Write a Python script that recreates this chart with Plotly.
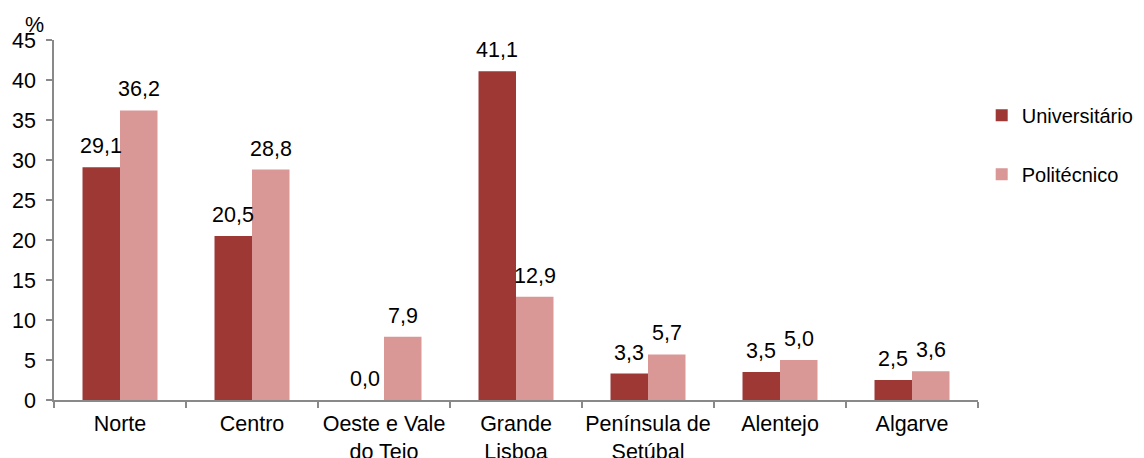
import plotly.graph_objects as go

# Regions and values (%)
regioes = ["Norte", "Centro", "Oeste e Vale<br>do Tejo", "Grande<br>Lisboa",
           "Península de<br>Setúbal", "Alentejo", "Algarve"]
universitario = [29.1, 20.5, 0.0, 41.1, 3.3, 3.5, 2.5]
politecnico = [36.2, 28.8, 7.9, 12.9, 5.7, 5.0, 3.6]

cor_univ = "#9E3835"
cor_poli = "#D99795"
fonte = dict(family="Arial, Liberation Sans, sans-serif", size=21.5, color="#000000")
fonte_leg = dict(family="Arial, Liberation Sans, sans-serif", size=20, color="#000000")

fig = go.Figure()
fig.add_trace(go.Bar(x=regioes, y=universitario, name="Universitário",
                     marker=dict(color=cor_univ, line_width=0), legendgroup="u"))
fig.add_trace(go.Bar(x=regioes, y=politecnico, name="Politécnico",
                     marker=dict(color=cor_poli, line_width=0), legendgroup="p"))

# value labels above the bars (comma decimal)
half = 18.75
for serie, shift in ((universitario, -half), (politecnico, half)):
    for reg, v in zip(regioes, serie):
        fig.add_annotation(x=reg, y=v, xref="x", yref="y", xshift=shift, yshift=7,
                           text=f"{v:.1f}".replace(".", ","), showarrow=False,
                           yanchor="bottom", font=fonte)

fig.add_annotation(x=0, y=1, xref="paper", yref="paper", xshift=-20, yshift=1,
                   text="%", showarrow=False, xanchor="center", yanchor="bottom",
                   font=fonte)

# page body adds an 8px offset, so margins are shifted to compensate
fig.update_layout(
    width=1144, height=458,
    margin=dict(l=46, r=174, t=32, b=66, autoexpand=False),
    plot_bgcolor="white", paper_bgcolor="white",
    barmode="group", bargap=0.432, bargroupgap=0,
    font=fonte,
    showlegend=True,
    legend=dict(x=1.004, y=0.845, xanchor="left", yanchor="top",
                tracegroupgap=30, font=fonte_leg, itemwidth=30),
)
fig.update_xaxes(showline=True, linecolor="#898989", linewidth=1.5,
                 ticks="outside", tickson="boundaries", ticklen=6,
                 tickcolor="#898989", tickwidth=1.5, showgrid=False,
                 tickfont=fonte, tickangle=0, ticklabelstandoff=3,
                 automargin=False)
fig.update_yaxes(range=[0, 45], dtick=5, showline=True, linecolor="#898989",
                 linewidth=1.5, ticks="outside", ticklen=6, tickcolor="#898989",
                 tickwidth=1.5, showgrid=False, zeroline=False, tickfont=fonte,
                 ticklabelstandoff=6, automargin=False)

fig.write_html("out.html")
